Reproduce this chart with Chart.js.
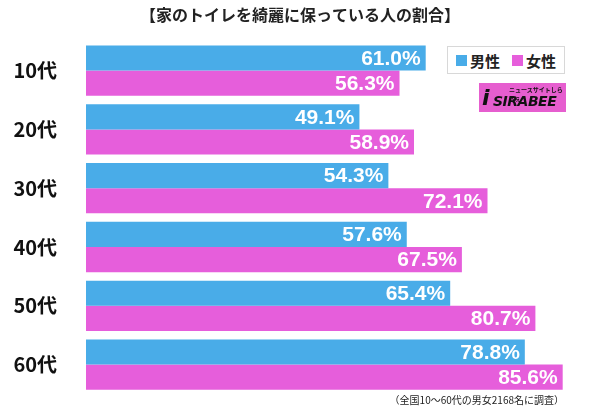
<!DOCTYPE html>
<html><head><meta charset="utf-8">
<script src="https://cdn.jsdelivr.net/npm/chart.js@4/dist/chart.umd.min.js"></script>
<style>
html,body{margin:0;padding:0;background:#fff;}
#wrap{position:relative;width:600px;height:410px;font-family:"Noto Sans CJK JP","Noto Sans",sans-serif;}
canvas{display:block;}
#legend{position:absolute;left:447px;top:46px;width:118px;height:28px;border:1px solid #d8d8d8;background:#fff;box-sizing:border-box;display:flex;align-items:center;justify-content:center;font-weight:bold;font-size:15px;color:#222;}
#legend span.sw{display:inline-block;width:11px;height:11px;margin-right:3px;}
#legend .it{display:flex;align-items:center;margin:0 6px;}
#logo{position:absolute;left:479px;top:83px;width:87px;height:29px;background:#e65ecf;color:#111;font-family:"DejaVu Sans",sans-serif;font-weight:bold;font-style:italic;font-size:14px;box-sizing:border-box;}
#logo .big{position:absolute;left:14px;top:10px;letter-spacing:-0.5px;}
#logo .sm{position:absolute;left:30px;top:2px;font-size:6px;font-style:normal;font-family:"Noto Sans CJK JP",sans-serif;}
#logo .i{position:absolute;left:3px;top:2px;font-size:22px;}
#note{position:absolute;right:36px;top:392px;font-size:10px;color:#222;}
</style></head>
<body><div id="wrap">
<canvas id="c" width="600" height="410"></canvas>
<div id="legend"><div class="it"><span class="sw" style="background:#49ace8"></span>男性</div><div class="it"><span class="sw" style="background:#e65edb"></span>女性</div></div>
<div id="logo"><span class="i">i</span><span class="sm">ニュースサイトしらべぇ</span><span class="big">SIRABEE</span></div>
<div id="note">（全国10〜60代の男女2168名に調査）</div>
</div>
<script>
const categories = ["10代","20代","30代","40代","50代","60代"];
const male = [61.0,49.1,54.3,57.6,65.4,78.8];
const female = [56.3,58.9,72.1,67.5,80.7,85.6];
const seriesNames = ["男性","女性"];
const titleText = "【家のトイレを綺麗に保っている人の割合】";

const valueLabels = {
  id:'valueLabels',
  afterDatasetsDraw(chart){
    const ctx = chart.ctx;
    ctx.save();
    ctx.font = 'bold 21px "Liberation Sans","Noto Sans",sans-serif';
    ctx.fillStyle = '#fff';
    ctx.textAlign = 'right';
    ctx.textBaseline = 'middle';
    chart.data.datasets.forEach((ds,i)=>{
      chart.getDatasetMeta(i).data.forEach((bar,j)=>{
        ctx.fillText(ds.data[j].toFixed(1)+'%', bar.x-5, bar.y+1);
      });
    });
    ctx.restore();
  }
};

new Chart(document.getElementById('c'),{
  type:'bar',
  data:{labels:categories,datasets:[
    {label:seriesNames[0],data:male,backgroundColor:'#49ace8',barPercentage:1,categoryPercentage:0.855},
    {label:seriesNames[1],data:female,backgroundColor:'#e65edb',barPercentage:1,categoryPercentage:0.855}
  ]},
  options:{
    indexAxis:'y',responsive:false,animation:false,
    layout:{padding:{left:0,right:0,top:0,bottom:16}},
    plugins:{
      legend:{display:false},tooltip:{enabled:false},
      title:{display:true,text:titleText,color:'#222',font:{size:16,weight:'bold',family:'"Noto Sans CJK JP",sans-serif'},padding:{top:5,bottom:17}}
    },
    scales:{
      x:{min:0,max:92.3,display:false},
      y:{grid:{display:false},border:{display:false},
         afterFit(axis){axis.width=86;axis.paddingTop=0;axis.paddingBottom=0;},
         ticks:{color:'#111',padding:21,font:{size:20,weight:'bold',family:'"Noto Sans CJK JP",sans-serif'}}}
    }
  },
  plugins:[valueLabels]
});
</script></body></html>
